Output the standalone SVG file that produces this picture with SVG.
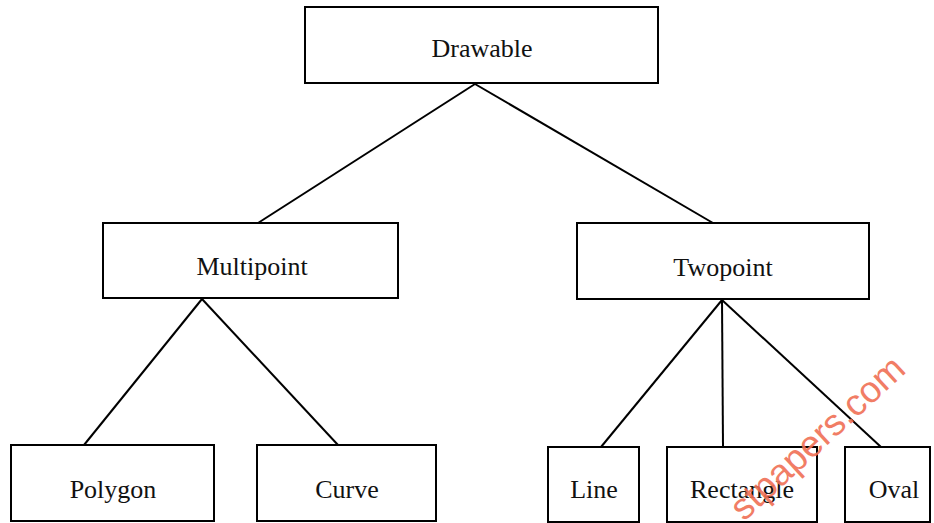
<svg xmlns="http://www.w3.org/2000/svg" width="934" height="523" viewBox="0 0 934 523">
<style>
.box{fill:#fff;stroke:#000;stroke-width:2}
.lbl{font-family:"Liberation Serif","Times New Roman",serif;font-size:26px;fill:#111;text-anchor:middle}
.con line{stroke:#000;stroke-width:2}
.wm{font-family:"Liberation Sans",Arial,sans-serif;font-size:37px;fill:#f07055;opacity:0.9}
</style>
<rect width="934" height="523" fill="#fff"/>
<g class="con">
<line x1="475" y1="84" x2="258" y2="223"/>
<line x1="475" y1="84" x2="713" y2="223"/>
<line x1="202" y1="299" x2="84" y2="445"/>
<line x1="202" y1="299" x2="338" y2="445"/>
<line x1="722" y1="300" x2="601" y2="447"/>
<line x1="722" y1="300" x2="723" y2="447"/>
<line x1="722" y1="300" x2="881" y2="447"/>
</g>
<g id="drawable"><rect class="box" x="305" y="7" width="353" height="76"/><text class="lbl" x="482" y="57">Drawable</text></g>
<g id="multipoint"><rect class="box" x="103" y="223" width="295" height="75"/><text class="lbl" x="252" y="275">Multipoint</text></g>
<g id="twopoint"><rect class="box" x="577" y="223" width="292" height="76"/><text class="lbl" x="723" y="276">Twopoint</text></g>
<g id="polygon"><rect class="box" x="11" y="445" width="203" height="76"/><text class="lbl" x="113" y="498">Polygon</text></g>
<g id="curve"><rect class="box" x="257" y="445" width="179" height="76"/><text class="lbl" x="347" y="498">Curve</text></g>
<g id="line"><rect class="box" x="548" y="447" width="91" height="75"/><text class="lbl" x="594" y="498">Line</text></g>
<g id="rectangle"><rect class="box" x="667" y="447" width="150" height="75"/><text class="lbl" x="742" y="498">Rectangle</text></g>
<g id="oval"><rect class="box" x="845" y="447" width="85" height="75"/><text class="lbl" x="894" y="498">Oval</text></g>
<text class="wm" transform="translate(744,522) rotate(-42.6)">stpapers.com</text>
</svg>
